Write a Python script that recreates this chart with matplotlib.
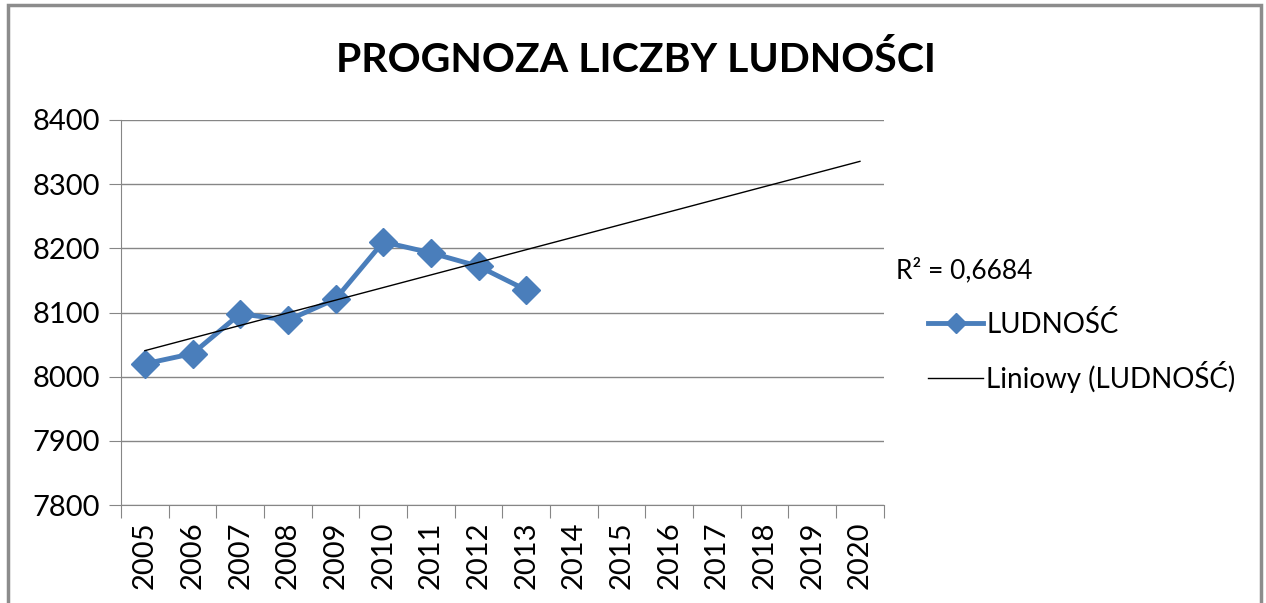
import numpy as np
import matplotlib
matplotlib.use("Agg")
import matplotlib.pyplot as plt
from matplotlib.patches import Rectangle

# dane
years = [str(y) for y in range(2005, 2021)]
ludnosc = [8020, 8036, 8098, 8088, 8121, 8210, 8193, 8172, 8135]
r2_label = "R² = 0,6684"
title = "PROGNOZA LICZBY LUDNOŚCI"
y_ticks = [7800, 7900, 8000, 8100, 8200, 8300, 8400]

plt.rcParams["font.family"] = ["Lato", "DejaVu Sans"]

fig = plt.figure(figsize=(12.66, 6.03), dpi=100)
ax = fig.add_axes([0.0956, 0.1625, 0.6025, 0.6385])

x_data = np.arange(len(ludnosc))
x_all = np.arange(len(years))

blue = "#4A7EBB"
ax.plot(x_data, ludnosc, color=blue, lw=3.5, marker="D", ms=14,
        mec=blue, mfc=blue, zorder=3, label="LUDNOŚĆ")

# linia trendu (liniowa) na pelnym zakresie lat
a, b = np.polyfit(x_data, ludnosc, 1)
ax.plot(x_all, a * x_all + b, color="black", lw=1, zorder=4,
        label="Liniowy (LUDNOŚĆ)")

ax.set_xlim(-0.5, len(years) - 0.5)
ax.set_ylim(7800, 8400)
ax.set_yticks(y_ticks)
ax.set_yticklabels([str(v) for v in y_ticks], fontsize=21)
ax.yaxis.grid(True, color="#868686", lw=1)
ax.set_axisbelow(True)

ax.set_xticks(np.arange(-0.5, len(years)), labels=[])
ax.set_xticks(x_all, minor=True)
ax.set_xticklabels(years, minor=True, rotation=90, fontsize=21)
ax.tick_params(axis="x", which="major", length=9, color="#868686")
ax.tick_params(axis="x", which="minor", length=0, pad=12)
ax.tick_params(axis="y", length=9, color="#868686", pad=6)

for s in ["top", "right"]:
    ax.spines[s].set_visible(False)
for s in ["left", "bottom"]:
    ax.spines[s].set_color("#868686")

fig.text(0.502, 0.9, title, ha="center", va="center", fontsize=29.5,
         fontweight="bold")

fig.text(0.708, 0.552, r2_label, ha="left", va="center", fontsize=19)

leg = ax.legend(loc="upper left", bbox_to_anchor=(0.722, 0.508),
                bbox_transform=fig.transFigure, frameon=False, fontsize=20,
                handlelength=2.0, handletextpad=0.1, labelspacing=0.85,
                borderpad=0, markerscale=0.75)

# ramka wykresu
fig.patches.append(Rectangle((0.006, -0.05), 0.99, 1.042,
                             transform=fig.transFigure, fill=False,
                             edgecolor="#8c8c8c", lw=2.5))

fig.savefig("out.png", dpi=100)
